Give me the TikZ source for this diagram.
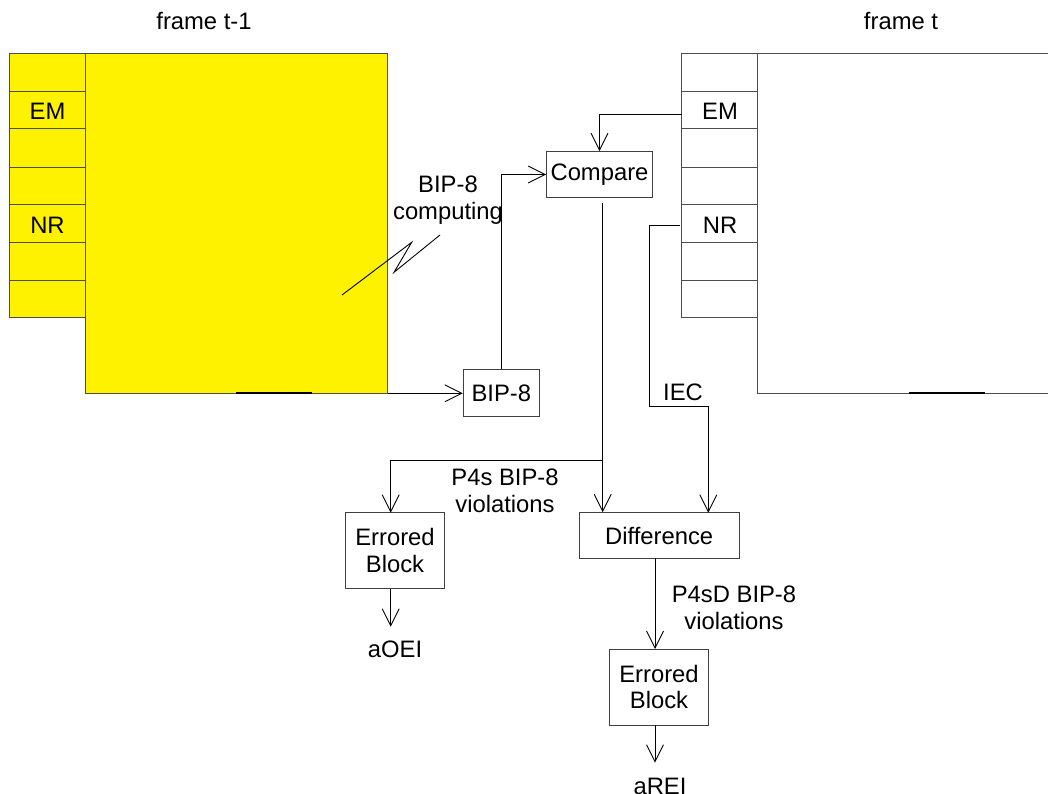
\documentclass[tikz,border=0pt]{standalone}
\usepackage{fontspec}
\setmainfont{Liberation Sans}
\usetikzlibrary{arrows.meta}
\begin{document}
\begin{tikzpicture}[x=1pt,y=-1pt,
  every node/.style={font=\fontsize{23.8}{26.7}\selectfont, inner sep=0pt, align=center},
  box/.style={draw=black!75, line width=1pt, rectangle},
  conn/.style={line width=0.9pt, -{Straight Barb[length=17pt,width=17pt]}},
  plain/.style={line width=0.9pt},
  frm/.style={draw=black!70, line width=1pt},
  thickseg/.style={line width=2.2pt}]
\useasboundingbox (0,0) rectangle (1048,793);

% ---------- frame t-1 ----------
\fill[yellow] (9.3,53.3) rectangle (85,317.7);
\fill[yellow] (85,53.3) rectangle (387.7,393.3);
\draw[frm] (85,53.3) rectangle (387.7,393.3);
\draw[frm] (9.3,53.3) rectangle (85,317.7);
\foreach \y in {91,128.7,167,204.7,242.3,280} \draw[frm] (9.3,\y) -- (85,\y);
\draw[thickseg] (236,393.3) -- (311.7,393.3);
\node (ft1) at (204,21) {frame t-1};
\node (emL) at (47.5,111) {EM};
\node (nrL) at (47.5,225) {NR};

% ---------- frame t ----------
\draw[frm] (681.7,53.3) rectangle (757.3,317.7);
\foreach \y in {91,128.7,167,204.7,242.3,280} \draw[frm] (681.7,\y) -- (757.3,\y);
\draw[frm] (757.3,53.3) -- (1048,53.3);
\draw[frm] (757.3,53.3) -- (757.3,393.3) -- (1048,393.3);
\draw[thickseg] (909,393.3) -- (985,393.3);
\node (ft) at (901,21) {frame t};
\node (emR) at (720,111) {EM};
\node (nrR) at (720,225) {NR};

% ---------- computing label ----------
\node (bipc) at (448,200) {BIP-8\\computing};
\draw[plain] (342,295) -- (411.7,242.3) -- (394,272.3) -- (440,235);

% ---------- boxes ----------
\node[box, minimum width=105.6pt, minimum height=45.6pt] (cmp) at (599.5,174.5) {Compare};
\node[box, minimum width=76pt, minimum height=46.7pt] (bip) at (501.3,393.3) {BIP-8};
\node[box, minimum width=159.7pt, minimum height=45.6pt] (diff) at (659.2,535.5) {Difference};
\node[box, minimum width=99.4pt, minimum height=76pt] (eb1) at (395,550.7) {Errored\\Block};
\node[box, minimum width=99.4pt, minimum height=76pt] (eb2) at (659,687) {Errored\\Block};

% ---------- text labels ----------
\node (iec) at (683,392) {IEC};
\node (p4s) at (505,491) {P4s BIP-8\\violations};
\node (p4sd) at (734,608) {P4sD BIP-8\\violations};
\node (aoei) at (395,649) {aOEI};
\node (arei) at (660,786) {aREI};

% ---------- coordinates ----------
\coordinate (fbot) at (387.7,393.3);
\coordinate (emin) at (681.7,114);
\coordinate (nrin) at (680,225);
\coordinate (cout) at (602.7,203.3);
\coordinate (br) at (602.7,460);

% ---------- connectors ----------
\draw[conn] (fbot) -- (bip.west);
\draw[conn] (bip.north) |- (cmp.west);
\draw[conn] (emin) -| (cmp.north);
\draw[plain] (cout) -- (br);
\draw[conn] (br) -- (br |- diff.north);
\draw[conn] (br) -| (390.7,512.7);
\draw[conn] (nrin) -- (649.3,225) -- (649.3,406.7) -- (708.3,406.7) -- (708.3,512.7);
\draw[conn] (655,558.3) -- (655,649);
\draw[conn] (390.7,588.7) -- (390.7,626.7);
\draw[conn] (655,725) -- (655,762.7);
\end{tikzpicture}
\end{document}
